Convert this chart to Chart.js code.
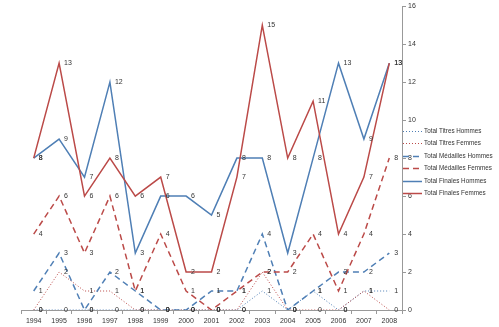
<!DOCTYPE html>
<html>
<head>
<meta charset="utf-8">
<script src="https://cdn.jsdelivr.net/npm/chart.js@4.4.0/dist/chart.umd.min.js"></script>
<style>
  html, body { margin: 0; padding: 0; background: #fff; }
  canvas { display: block; }
</style>
</head>
<body>
<canvas id="c" width="499" height="327"></canvas>
<script>
// Yearly totals, 1994–2008
const years = ['1994','1995','1996','1997','1998','1999','2000','2001','2002','2003','2004','2005','2006','2007','2008'];
const titresHommes    = [0, 0, 0, 0, 0, 0, 0, 0, 0, 1, 0, 1, 0, 1, 1];
const titresFemmes    = [0, 2, 1, 1, 0, 0, 0, 0, 0, 2, 0, 0, 0, 1, 0];
const medaillesHommes = [1, 3, 0, 2, 1, 0, 0, 1, 1, 4, 0, 1, 2, 2, 3];
const medaillesFemmes = [4, 6, 3, 6, 1, 4, 1, 0, 1, 2, 2, 4, 1, 4, 8];
const finalesHommes   = [8, 9, 7, 12, 3, 6, 6, 5, 8, 8, 3, 8, 13, 9, 13];
const finalesFemmes   = [8, 13, 6, 8, 6, 7, 2, 2, 7, 15, 8, 11, 4, 7, 13];
const yTicks = { min: 0, max: 16, step: 2 };

const BLUE = '#4f7fb5';
const RED = '#bb4a48';
const FONT = '"Liberation Sans", Arial, sans-serif';

function series(label, data, color, dash, width, order) {
  return {
    label, data,
    borderColor: color,
    backgroundColor: color,
    borderDash: dash,
    borderWidth: width,
    pointRadius: 0,
    tension: 0,
    fill: false,
    order
  };
}

// value printed just to the right of every point
const valueLabels = {
  id: 'valueLabels',
  afterDatasetsDraw(chart) {
    const ctx = chart.ctx;
    ctx.save();
    ctx.font = '7px ' + FONT;
    ctx.fillStyle = '#333';
    ctx.textAlign = 'left';
    ctx.textBaseline = 'middle';
    chart.data.datasets.forEach((ds, i) => {
      const meta = chart.getDatasetMeta(i);
      meta.data.forEach((pt, j) => {
        ctx.fillText(String(ds.data[j]), pt.x + 5, pt.y);
      });
    });
    ctx.restore();
  }
};

// legend drawn over the right-hand side of the plot
const sideLegend = {
  id: 'sideLegend',
  afterDraw(chart) {
    const ctx = chart.ctx;
    ctx.save();
    ctx.font = '6.3px ' + FONT;
    ctx.textBaseline = 'middle';
    ctx.textAlign = 'left';
    chart.data.datasets.forEach((ds, i) => {
      const y = Math.round(131 + i * 12.4) + 0.5;
      ctx.strokeStyle = ds.borderColor;
      ctx.lineWidth = ds.borderWidth;
      ctx.setLineDash(ds.borderDash || []);
      ctx.beginPath();
      ctx.moveTo(403, y);
      ctx.lineTo(422, y);
      ctx.stroke();
      ctx.setLineDash([]);
      ctx.fillStyle = '#333';
      ctx.fillText(ds.label, 424, y);
    });
    ctx.restore();
  }
};

new Chart(document.getElementById('c'), {
  type: 'line',
  data: {
    labels: years,
    datasets: [
      series('Total Titres Hommes', titresHommes, BLUE, [1, 2], 1, 5),
      series('Total Titres Femmes', titresFemmes, RED, [1, 2], 1, 4),
      series('Total Médailles Hommes', medaillesHommes, BLUE, [6, 4], 1.5, 3),
      series('Total Médailles Femmes', medaillesFemmes, RED, [6, 4], 1.5, 2),
      series('Total Finales Hommes', finalesHommes, BLUE, [], 1.5, 1),
      series('Total Finales Femmes', finalesFemmes, RED, [], 1.5, 0)
    ]
  },
  options: {
    responsive: false,
    animation: false,
    layout: { padding: { top: 6, left: 21, right: 0, bottom: 0 } },
    plugins: { legend: { display: false }, tooltip: { enabled: false } },
    scales: {
      x: {
        type: 'category',
        offset: true,
        grid: { display: true, drawOnChartArea: false, drawTicks: true, tickLength: 4, offset: true, color: '#999' },
        border: { display: true, color: '#999' },
        ticks: { font: { family: FONT, size: 7 }, color: '#333', padding: 3, maxRotation: 0, autoSkip: false },
        afterFit(scale) { scale.height = 17; }
      },
      y: {
        position: 'right',
        min: yTicks.min,
        max: yTicks.max,
        grid: { display: true, drawOnChartArea: false, drawTicks: true, tickLength: 4, color: '#999' },
        border: { display: true, color: '#999' },
        ticks: { stepSize: yTicks.step, font: { family: FONT, size: 7 }, color: '#333', padding: 2 },
        afterFit(scale) { scale.width = 97; }
      }
    }
  },
  plugins: [valueLabels, sideLegend]
});
</script>
</body>
</html>
